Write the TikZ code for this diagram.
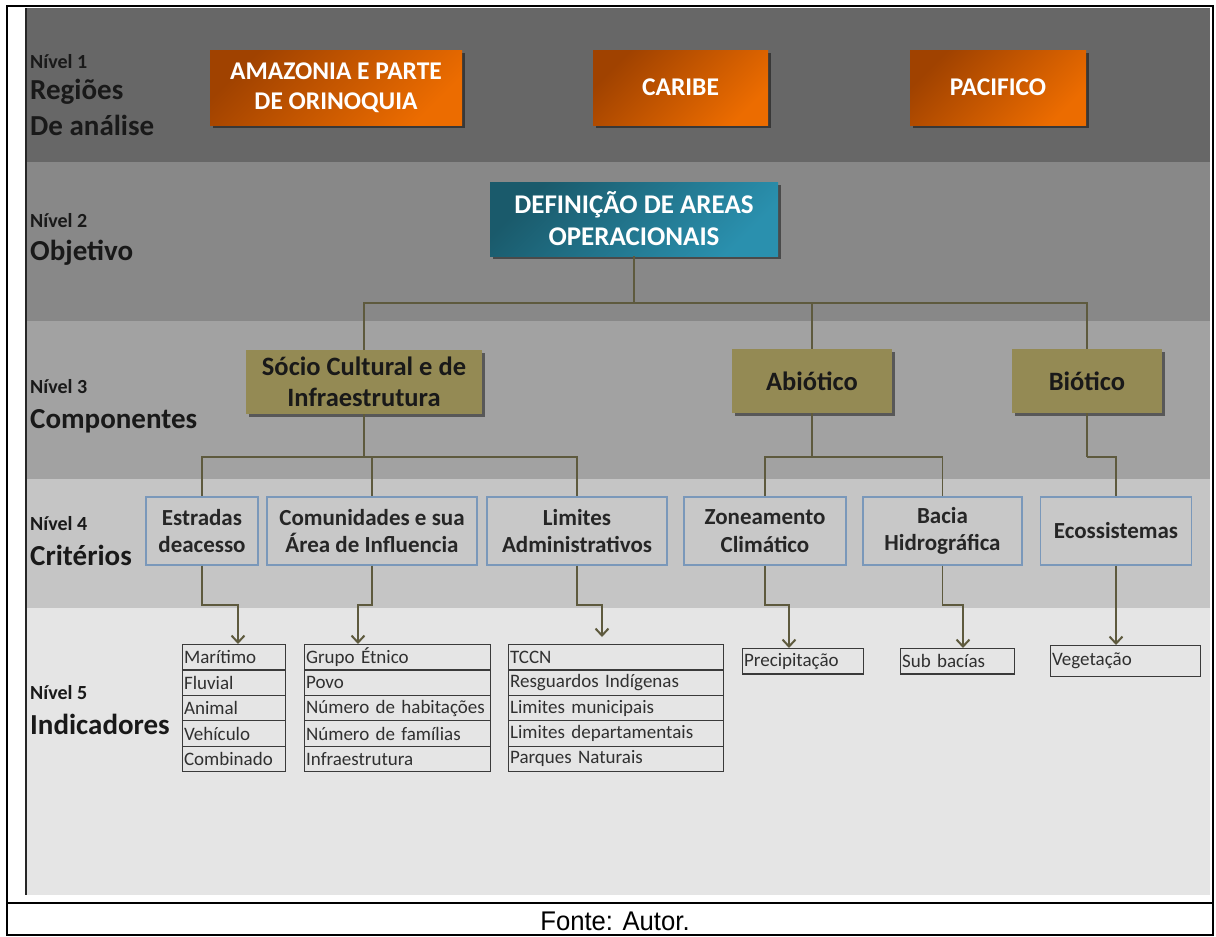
\documentclass[tikz,border=0pt]{standalone}
\usepackage{fontspec}
\setmainfont{Carlito}
\newfontfamily\capfont[FakeStretch=0.95]{Liberation Sans}
\usetikzlibrary{shadows,arrows.meta}
\newcommand\fsz[2]{\fontsize{#1}{#2}\selectfont}
\definecolor{bandA}{HTML}{676767}
\definecolor{bandB}{HTML}{888888}
\definecolor{bandC}{HTML}{A2A2A2}
\definecolor{bandD}{HTML}{C5C5C5}
\definecolor{bandE}{HTML}{E5E5E5}
\definecolor{orD}{HTML}{A04200}
\definecolor{orL}{HTML}{EC6C00}
\definecolor{tealD}{HTML}{1A5A6B}
\definecolor{tealL}{HTML}{2A90AE}
\definecolor{olive}{HTML}{948A54}
\definecolor{connc}{HTML}{5E5A3E}
\definecolor{critfill}{HTML}{C8C8C8}
\definecolor{critborder}{HTML}{7A98BA}
\definecolor{cellc}{HTML}{3A3A3A}
\definecolor{celltext}{HTML}{303030}
\begin{document}
\begin{tikzpicture}[x=1pt,y=-1pt,
  shad/.style={drop shadow={shadow xshift=3pt,shadow yshift=-3pt,opacity=0.45,fill=black}},
  orangebox/.style={rectangle,inner sep=0pt,text=white,font=\fsz{25.5}{30}\bfseries,align=center,
    top color=orD,bottom color=orL,shading angle=45,shad},
  tealbox/.style={rectangle,inner sep=0pt,text=white,font=\fsz{27}{32}\bfseries,align=center,
    top color=tealD,bottom color=tealL,shading angle=45,shad},
  olivebox/.style={rectangle,inner sep=0pt,fill=olive,text=black!90,font=\fsz{26.5}{31}\bfseries,align=center,shad},
  critbox/.style={rectangle,inner sep=0pt,fill=critfill,draw=critborder,line width=1.3pt,
    text=black!85,font=\fsz{23}{27.5}\bfseries,align=center},
  cell/.style={rectangle,anchor=north west,draw=cellc,line width=1.2pt,inner xsep=1.5pt,inner ysep=0pt,
    minimum height=25.4,align=left,text=celltext,font=\fsz{19}{20}},
  lvlsmall/.style={anchor=base west,inner sep=0pt,font=\fsz{20}{22}\bfseries,text=black!90},
  lvlbig/.style={anchor=base west,inner sep=0pt,font=\fsz{29}{32}\bfseries,text=black!90},
  conn/.style={draw=connc,line width=1.8pt},
  arr/.style={draw=connc,line width=1.8pt,-{Straight Barb[length=7pt,width=13pt,line width=2pt]}}
]
\useasboundingbox (0,0) rectangle (1216,937);
% bands
\fill[bandA] (25,8) rectangle (1210,162);
\fill[bandB] (25,162) rectangle (1210,321);
\fill[bandC] (25,321) rectangle (1210,479);
\fill[bandD] (25,479) rectangle (1210,608);
\fill[bandE] (25,608) rectangle (1210,895);
\draw[line width=1.2pt,black!85] (26,8) -- (26,895);
% frame
\draw[line width=1.8pt] (7,6) rectangle (1213,935);
\draw[line width=1.8pt] (7,903) -- (1213,903);
\node[font=\capfont\fsz{27}{30},inner sep=0pt,anchor=base] (cap) at (615,930) {Fonte: Autor.};

% level labels
\node[lvlsmall] (n1) at (30,68) {Nível 1};
\node[lvlbig] (n1a) at (30,99) {Regiões};
\node[lvlbig] (n1b) at (30,135) {De análise};
\node[lvlsmall] (n2) at (30,227) {Nível 2};
\node[lvlbig] (n2a) at (30,260) {Objetivo};
\node[lvlsmall] (n3) at (30,393) {Nível 3};
\node[lvlbig] (n3a) at (30,428) {Componentes};
\node[lvlsmall] (n4) at (30,530) {Nível 4};
\node[lvlbig] (n4a) at (30,565) {Critérios};
\node[lvlsmall] (n5) at (30,699) {Nível 5};
\node[lvlbig] (n5a) at (30,734) {Indicadores};

% level 1
\node[orangebox,minimum width=252,minimum height=75] (amaz) at (336,87.5) {AMAZONIA E PARTE\\DE ORINOQUIA};
\node[orangebox,minimum width=175,minimum height=75] (carib) at (680.5,87.5) {CARIBE};
\node[orangebox,minimum width=176,minimum height=75] (pacif) at (998,87.5) {PACIFICO};

% level 2
\node[tealbox,minimum width=288,minimum height=74] (defin) at (634,219) {DEFINIÇÃO DE AREAS\\OPERACIONAIS};

% level 3
\node[olivebox,minimum width=236,minimum height=64] (socio) at (364,382) {Sócio Cultural e de\\Infraestrutura};
\node[olivebox,minimum width=160,minimum height=64] (abio) at (812,381) {Abiótico};
\node[olivebox,minimum width=150,minimum height=64] (bio) at (1087,381) {Biótico};

% level 4
\node[critbox,minimum width=112,minimum height=68] (estr) at (202,531) {Estradas\\deacesso};
\node[critbox,minimum width=210,minimum height=68] (comu) at (372,531) {Comunidades e sua\\Área de Influencia};
\node[critbox,minimum width=180,minimum height=68] (limi) at (577,531) {Limites\\Administrativos};
\node[critbox,minimum width=162,minimum height=68] (zone) at (765,531) {Zoneamento\\Climático};
\node[critbox,minimum width=159,minimum height=68] (bacia) at (942.5,531) {Bacia\\Hidrográfica};
\node[critbox,minimum width=151,minimum height=68] (eco) at (1116,531) {Ecossistemas};

% level 5 tables
\node[cell,text width=100pt] (ta1) at (182,644) {Marítimo};
\node[cell,text width=100pt] (ta2) at (182,669.4) {Fluvial};
\node[cell,text width=100pt] (ta3) at (182,694.8) {Animal};
\node[cell,text width=100pt] (ta4) at (182,720.2) {Vehículo};
\node[cell,text width=100pt] (ta5) at (182,745.6) {Combinado};

\node[cell,text width=183pt] (tb1) at (304,644) {Grupo Étnico};
\node[cell,text width=183pt] (tb2) at (304,669.4) {Povo};
\node[cell,text width=183pt] (tb3) at (304,694.8) {Número de habitações};
\node[cell,text width=183pt] (tb4) at (304,720.2) {Número de famílias};
\node[cell,text width=183pt] (tb5) at (304,745.6) {Infraestrutura};

\node[cell,text width=212pt] (tc1) at (508,644) {TCCN};
\node[cell,text width=212pt] (tc2) at (508,669.4) {Resguardos Indígenas};
\node[cell,text width=212pt] (tc3) at (508,694.8) {Limites municipais};
\node[cell,text width=212pt] (tc4) at (508,720.2) {Limites departamentais};
\node[cell,text width=212pt] (tc5) at (508,745.6) {Parques Naturais};

\node[cell,text width=118pt] (prec) at (742,648) {Precipitação};
\node[cell,text width=111pt] (subb) at (900,648) {Sub bacías};
\node[cell,text width=147pt,minimum height=31] (veg) at (1050,645) {Vegetação};

% connectors level 2 -> 3
\coordinate (j1) at (634,303);
\draw[conn] (defin.south) -- (j1);
\draw[conn] (j1) -| (socio.north);
\draw[conn] (j1) -| (abio.north);
\draw[conn] (j1) -| (bio.north);

% level 3 -> 4
\coordinate (j2) at (364,457);
\draw[conn] (socio.south) -- (j2);
\draw[conn] (j2) -| (estr.north);
\draw[conn] (j2) -| (comu.north);
\draw[conn] (j2) -| (limi.north);
\coordinate (j3) at (812,457);
\draw[conn] (abio.south) -- (j3);
\draw[conn] (j3) -| (zone.north);
\draw[conn] (j3) -| (bacia.north);
\coordinate (j4) at (1087,457);
\draw[conn] (bio.south) -- (j4);
\draw[conn] (j4) -| (eco.north);

% level 4 -> 5
\coordinate (a1) at (238,605);
\draw[arr] (estr.south) |- (a1) -- (a1 |- ta1.north);
\coordinate (a2) at (358,605);
\draw[arr] (comu.south) |- (a2) -- (a2 |- tb1.north);
\coordinate (a3) at (602,605);
\coordinate (a3e) at (602,637);
\draw[arr] (limi.south) |- (a3) -- (a3e);
\coordinate (a4) at (789,605);
\draw[arr] (zone.south) |- (a4) -- (a4 |- prec.north);
\coordinate (a5) at (963,605);
\draw[arr] (bacia.south) |- (a5) -- (a5 |- subb.north);
\draw[arr] (eco.south) -- (eco.south |- veg.north);
\end{tikzpicture}
\end{document}
